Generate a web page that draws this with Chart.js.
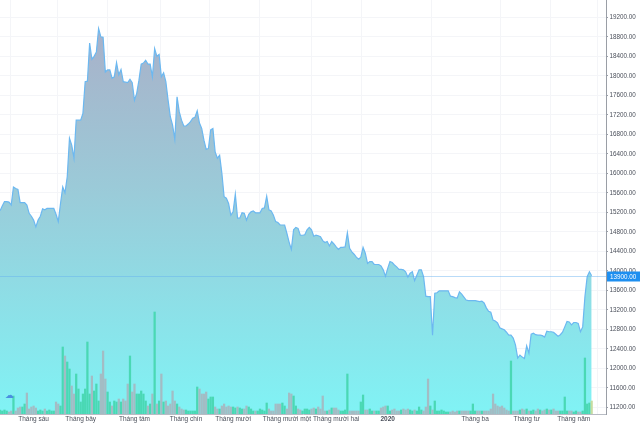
<!DOCTYPE html>
<html><head><meta charset="utf-8">
<script src="https://cdn.jsdelivr.net/npm/chart.js@4.4.1/dist/chart.umd.min.js"></script>
<style>html,body{margin:0;padding:0;background:#fff}#wrap{width:640px;height:427px;position:relative}</style>
</head><body><div id="wrap"><canvas id="c" width="640" height="427"></canvas></div>
<script>
// Daily close prices (one value per trading day)
const closePrices = [
15230,15330,15420,15420,15410,15350,15720,15690,15670,15400,15400,15400,15350,15180,15120,
15040,14900,15040,15120,15270,15250,15280,15280,15280,15280,15160,15010,15380,15720,15600,
15930,16720,16580,16310,17090,17090,17090,17230,17880,17890,18670,18340,18400,18490,18970,
18800,18790,18080,18120,18120,17950,17980,18270,18020,18130,17880,17870,17860,17930,17860,
17500,17640,17910,18240,18260,18320,18240,18240,17980,18560,18400,18440,17980,18060,17880,
17500,17160,16990,16700,17570,17260,17090,16970,16970,17010,17060,17130,17150,17280,17030,
16920,16680,16490,16510,16890,16920,16440,16310,16370,16000,15520,15490,15380,15140,15210,
15570,15080,15080,15190,15180,15040,15160,15210,15230,15190,15190,15190,15280,15290,15530,
15250,15230,15140,15010,14990,14940,14940,14940,14770,14590,14440,14840,14890,14870,14730,
14730,14740,14840,14890,14840,14710,14730,14720,14700,14620,14580,14600,14510,14600,14550,
14490,14440,14480,14480,14490,14780,14460,14390,14340,14280,14240,14280,14480,14360,14150,
14190,14190,14130,14130,14130,14100,14020,13890,14050,14190,14170,14120,14080,14030,14030,
14020,13980,13870,13950,13980,13800,13910,14020,14020,13880,13480,13470,13470,12680,13540,
13550,13590,13590,13590,13590,13590,13480,13470,13450,13440,13570,13520,13460,13400,13390,
13390,13390,13390,13380,13370,13380,13340,13240,13170,13150,12990,12970,12930,12830,12810,
12790,12740,12680,12680,12620,12480,12210,12270,12230,12200,12460,12310,12700,12720,12690,
12680,12680,12670,12640,12760,12750,12750,12740,12700,12660,12690,12740,12850,12960,12950,
12890,12940,12940,12920,12750,12850,13470,13880,13980,13900
];
// Daily volume (thousand shares)
const volumes = [
40,30,40,30,20,30,180,30,60,70,70,100,210,50,70,
80,60,30,40,30,50,30,40,30,30,120,100,80,670,580,
520,450,280,200,400,250,120,200,250,720,200,380,230,300,130,
400,630,350,220,120,80,130,120,150,120,150,130,300,580,220,
300,200,200,230,200,130,80,100,200,1020,100,130,400,120,130,
80,100,230,130,100,70,50,40,40,30,30,30,30,270,250,
200,200,220,150,170,170,70,50,50,80,100,70,80,70,70,
60,70,60,50,50,80,70,50,30,30,30,50,40,30,110,
50,30,30,100,100,100,110,80,50,210,200,180,80,50,40,
30,50,50,40,50,60,50,70,50,180,30,30,40,60,60,
60,40,30,30,40,400,30,30,30,30,30,120,190,40,40,
50,30,30,30,30,60,70,80,80,30,40,50,30,30,40,
50,40,50,40,30,40,30,70,40,30,70,350,80,40,130,
30,30,40,30,20,20,20,30,20,30,30,30,30,30,30,
30,100,30,30,30,30,30,30,30,50,200,100,80,70,80,
60,40,30,530,30,30,30,40,50,40,50,30,30,40,30,
50,40,30,40,50,40,40,50,30,30,30,30,170,30,30,
30,20,30,20,20,30,560,100,110,130
];
// Month boundaries (trading-day index) and their labels
const monthTickIndex = [15, 36, 60, 83, 104, 128, 150, 173, 212, 235, 256];
const monthTickLabels = ['Tháng sáu','Tháng bảy','Tháng tám','Tháng chín','Tháng mười','Tháng mười một','Tháng mười hai','2020','Tháng ba','Tháng tư','Tháng năm'];
const priceTicks = [11200,11600,12000,12400,12800,13200,13600,14000,14400,14800,15200,15600,16000,16400,16800,17200,17600,18000,18400,18800,19200];
const lastPrice = 13900;

const FONT = '"Liberation Sans", Arial, sans-serif';

const pricePoints = closePrices.map((v, i) => ({x: i, y: v}));
const volumePoints = volumes.map((v, i) => ({x: i, y: v}));
const volColors = closePrices.map((v, i) => {
  if (i === closePrices.length - 1) return '#c6dca0';
  if (i === 0) return '#4fdab6';
  return v >= closePrices[i - 1] ? '#4ad8b4' : '#a3bcc4';
});

const lastPricePlugin = {
  id: 'lastPrice',
  afterDatasetsDraw(chart) {
    const {ctx, chartArea, scales} = chart;
    const y = Math.round(scales.y.getPixelForValue(lastPrice)) + 0.5;
    ctx.save();
    ctx.strokeStyle = 'rgba(100,175,240,0.45)';
    ctx.lineWidth = 1;
    ctx.beginPath();
    ctx.moveTo(chartArea.left, y);
    ctx.lineTo(chartArea.right, y);
    ctx.stroke();
    const x0 = chartArea.right + 1;
    ctx.fillStyle = '#1e8ff0';
    ctx.fillRect(x0, y - 5, 33, 10);
    ctx.fillStyle = '#ffffff';
    ctx.font = '6.3px ' + FONT;
    ctx.textBaseline = 'middle';
    ctx.textAlign = 'left';
    ctx.fillText(lastPrice.toFixed(2), x0 + 3, y + 0.5);
    // small event marker at the lower left
    ctx.fillStyle = '#4a8fe0';
    ctx.font = '9px "DejaVu Sans", sans-serif';
    ctx.fillText('\u2601', chartArea.left + 5, chartArea.bottom - 18);
    ctx.restore();
  }
};

new Chart(document.getElementById('c'), {
  data: {
    datasets: [
      {
        type: 'bar',
        data: volumePoints,
        yAxisID: 'yv',
        backgroundColor: volColors,
        barThickness: 1.6,
        order: 0
      },
      {
        type: 'line',
        data: pricePoints,
        yAxisID: 'y',
        borderColor: '#6cb8f0',
        borderWidth: 1.2,
        pointRadius: 0,
        tension: 0,
        fill: 'start',
        backgroundColor: (c) => {
          const area = c.chart.chartArea;
          if (!area) return 'rgba(140,200,220,0.8)';
          const g = c.chart.ctx.createLinearGradient(0, area.top, 0, area.bottom);
          g.addColorStop(0, '#abacc6');
          g.addColorStop(0.45, '#9bcad8');
          g.addColorStop(1, '#80f3f5');
          return g;
        },
        order: 1
      }
    ]
  },
  options: {
    responsive: false,
    animation: false,
    devicePixelRatio: 1,
    layout: {padding: 0},
    plugins: {legend: {display: false}, tooltip: {enabled: false}},
    scales: {
      x: {
        type: 'linear',
        min: 0,
        max: 270.4,
        offset: false,
        afterBuildTicks: (s) => { s.ticks = monthTickIndex.map(v => ({value: v})); },
        afterFit: (s) => { s.height = 13; s.paddingLeft = 0; s.paddingRight = 0; },
        ticks: {
          autoSkip: false,
          maxRotation: 0,
          padding: 1,
          color: '#4a4f5a',
          font: (c) => ({family: FONT, size: 6.5, weight: (c.tick && c.tick.label === '2020') ? 'bold' : 'normal'}),
          callback: (v, i) => monthTickLabels[i]
        },
        grid: {color: '#f4f5f8', drawTicks: false},
        border: {display: true, color: '#b8bcc4'}
      },
      y: {
        type: 'linear',
        position: 'right',
        min: 11063,
        max: 19555,
        afterBuildTicks: (s) => { s.ticks = priceTicks.map(v => ({value: v})); },
        afterFit: (s) => { s.width = 34; s.paddingTop = 0; s.paddingBottom = 0; },
        ticks: {
          padding: 1.5,
          color: '#4a4f5a',
          font: {family: FONT, size: 6.3},
          callback: (v) => Number(v).toFixed(2)
        },
        grid: {color: '#f4f5f8', tickColor: '#9a9ea6', tickLength: 2},
        border: {display: true, color: '#9a9ea6'}
      },
      yv: {
        type: 'linear',
        display: false,
        min: 0,
        max: 4140
      }
    }
  },
  plugins: [lastPricePlugin]
});
</script>
</body></html>
